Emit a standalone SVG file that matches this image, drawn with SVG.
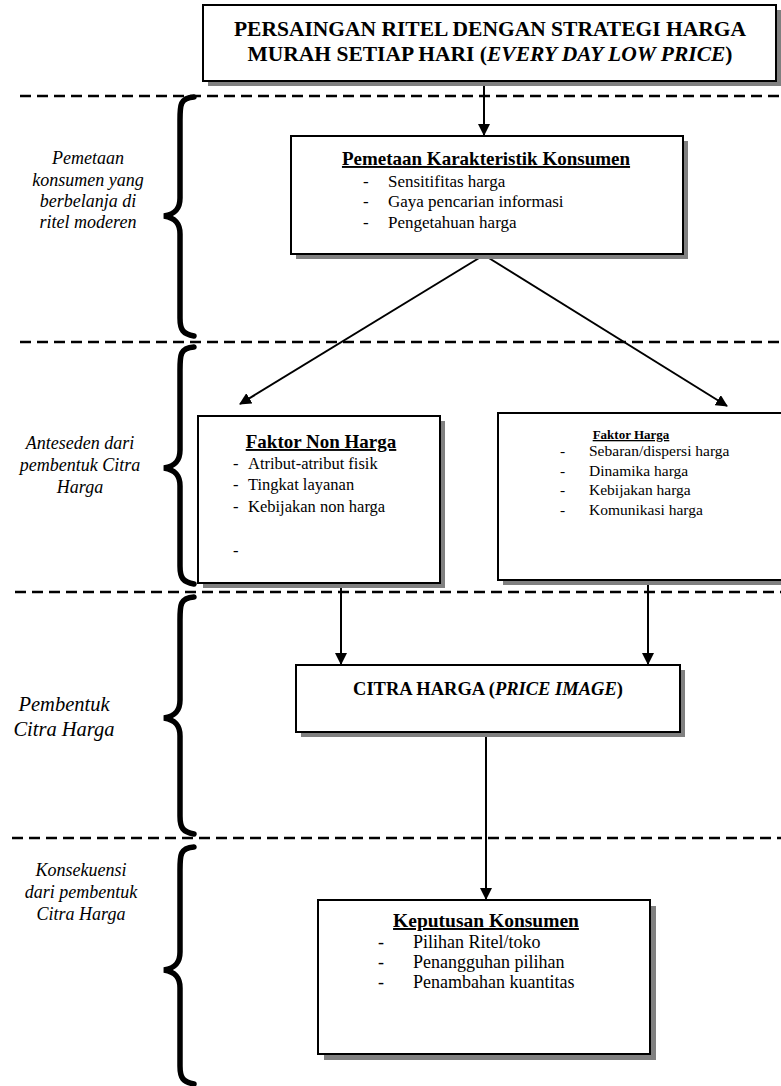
<svg xmlns="http://www.w3.org/2000/svg" width="781" height="1086" viewBox="0 0 781 1086" font-family="'Liberation Serif', 'Times New Roman', serif">
<defs>
<marker id="ah" markerWidth="12" markerHeight="12" refX="11" refY="6" orient="auto" markerUnits="userSpaceOnUse" viewBox="0 0 12 12">
<path d="M0,0 L12,6 L0,12 z" fill="#000"/>
</marker>
<style>
.box{fill:#fff;stroke:#000;stroke-width:2}
.sh{fill:#808080}
.t{font-family:'Liberation Serif','Times New Roman',serif;fill:#000}
.b{font-weight:bold}
.i{font-style:italic}
.dash{stroke:#000;stroke-width:2.5;stroke-dasharray:11 6;fill:none}
.br{fill:none;stroke:#000;stroke-width:5.5;stroke-linecap:round}
.c{stroke:#000;stroke-width:2;fill:none}
</style>
</defs>
<rect width="781" height="1086" fill="#fff"/>
<g id="dividers">
<line class="dash" x1="20" y1="96" x2="781" y2="96"/>
<line class="dash" x1="20" y1="342" x2="781" y2="342"/>
<line class="dash" x1="15" y1="592" x2="781" y2="592"/>
<line class="dash" x1="12" y1="838" x2="781" y2="838"/>
</g>
<g id="braces">
<path class="br" d="M194,97 C180,98 180,105 180,120 L180,198 C180,208 176,214 164,216 C176,218 180,224 180,234 L180,318 C180,330 183,334 194,336"/>
<path class="br" d="M194,347 C180,348 180,355 180,370 L180,450 C180,460 176,466 164,468 C176,470 180,476 180,486 L180,566 C180,578 183,582 194,584"/>
<path class="br" d="M194,597 C180,598 180,605 180,620 L180,700 C180,710 176,716 164,718 C176,720 180,726 180,736 L180,816 C180,828 183,832 194,834"/>
<path class="br" d="M194,847 C180,848 180,855 180,870 L180,952 C180,962 176,968 164,970 C176,972 180,978 180,988 L180,1066 C180,1078 183,1082 194,1084"/>
</g>
<g id="labels" class="t i" font-size="18" text-anchor="middle" font-style="italic">
<text x="88" y="164">Pemetaan</text>
<text x="88" y="186">konsumen yang</text>
<text x="88" y="207">berbelanja di</text>
<text x="88" y="228">ritel moderen</text>
<text x="80" y="449">Anteseden dari</text>
<text x="80" y="471">pembentuk Citra</text>
<text x="80" y="493">Harga</text>
<text x="64" y="711" font-size="20.5">Pembentuk</text>
<text x="64" y="736" font-size="20.5">Citra Harga</text>
<text x="81" y="876">Konsekuensi</text>
<text x="81" y="898">dari pembentuk</text>
<text x="81" y="920">Citra Harga</text>
</g>
<g id="connectors">
<line class="c" x1="484" y1="81" x2="484" y2="135" marker-end="url(#ah)"/>
<line class="c" x1="484" y1="255" x2="240" y2="404" marker-end="url(#ah)"/>
<line class="c" x1="484" y1="255" x2="727" y2="406" marker-end="url(#ah)"/>
<line class="c" x1="341" y1="570" x2="341" y2="664" marker-end="url(#ah)"/>
<line class="c" x1="648" y1="570" x2="648" y2="664" marker-end="url(#ah)"/>
<line class="c" x1="486" y1="733" x2="486" y2="899" marker-end="url(#ah)"/>
</g>
<g id="node-top">
<rect class="sh" x="208" y="10" width="573" height="76"/>
<rect class="box" x="203" y="5" width="573" height="76"/>
<text class="t b" font-size="21.5" font-weight="bold" x="490" y="36" text-anchor="middle">PERSAINGAN RITEL DENGAN STRATEGI HARGA</text>
<text class="t b" font-size="21.5" font-weight="bold" x="490" y="61" text-anchor="middle">MURAH SETIAP HARI (<tspan font-style="italic">EVERY DAY LOW PRICE</tspan>)</text>
</g>
<g id="node-pemetaan">
<rect class="sh" x="296" y="141" width="392" height="118"/>
<rect class="box" x="291" y="136" width="392" height="118"/>
<text class="t b" font-size="19" font-weight="bold" x="486" y="165" text-anchor="middle" text-decoration="underline">Pemetaan Karakteristik Konsumen</text>
<g class="t" font-size="17">
<text x="363" y="187">-</text><text x="388" y="187">Sensitifitas harga</text>
<text x="363" y="207">-</text><text x="388" y="207">Gaya pencarian informasi</text>
<text x="363" y="228">-</text><text x="388" y="228">Pengetahuan harga</text>
</g>
</g>
<g id="node-nonharga">
<rect class="sh" x="203" y="421" width="242" height="167"/>
<rect class="box" x="198" y="416" width="242" height="167"/>
<text class="t b" font-size="19" font-weight="bold" x="321" y="448" text-anchor="middle" text-decoration="underline">Faktor Non Harga</text>
<g class="t" font-size="16.5">
<text x="233" y="469">-</text><text x="248" y="469">Atribut-atribut  fisik</text>
<text x="233" y="490">-</text><text x="248" y="490">Tingkat layanan</text>
<text x="233" y="512">-</text><text x="248" y="512">Kebijakan non harga</text>
<text x="233" y="556">-</text>
</g>
</g>
<g id="node-harga">
<rect class="sh" x="503" y="418" width="290" height="167"/>
<rect class="box" x="498" y="413" width="290" height="167"/>
<text class="t b" font-size="13" font-weight="bold" x="631" y="439" text-anchor="middle" text-decoration="underline">Faktor Harga</text>
<g class="t" font-size="15.5">
<text x="560" y="456">-</text><text x="589" y="456">Sebaran/dispersi harga</text>
<text x="560" y="476">-</text><text x="589" y="476">Dinamika harga</text>
<text x="560" y="495">-</text><text x="589" y="495">Kebijakan harga</text>
<text x="560" y="515">-</text><text x="589" y="515">Komunikasi harga</text>
</g>
</g>
<g id="node-citra">
<rect class="sh" x="301" y="670" width="384" height="67"/>
<rect class="box" x="296" y="665" width="384" height="67"/>
<text class="t b" font-size="18.5" font-weight="bold" x="488" y="695" text-anchor="middle">CITRA HARGA (<tspan font-style="italic">PRICE IMAGE</tspan>)</text>
</g>
<g id="node-keputusan">
<rect class="sh" x="324" y="906" width="332" height="154"/>
<rect class="box" x="318" y="900" width="332" height="154"/>
<text class="t b" font-size="19.5" font-weight="bold" x="486" y="927" text-anchor="middle" text-decoration="underline">Keputusan Konsumen</text>
<g class="t" font-size="18">
<text x="378" y="948">-</text><text x="413" y="948">Pilihan Ritel/toko</text>
<text x="378" y="968">-</text><text x="413" y="968">Penangguhan pilihan</text>
<text x="378" y="988">-</text><text x="413" y="988">Penambahan kuantitas</text>
</g>
</g>
</svg>
